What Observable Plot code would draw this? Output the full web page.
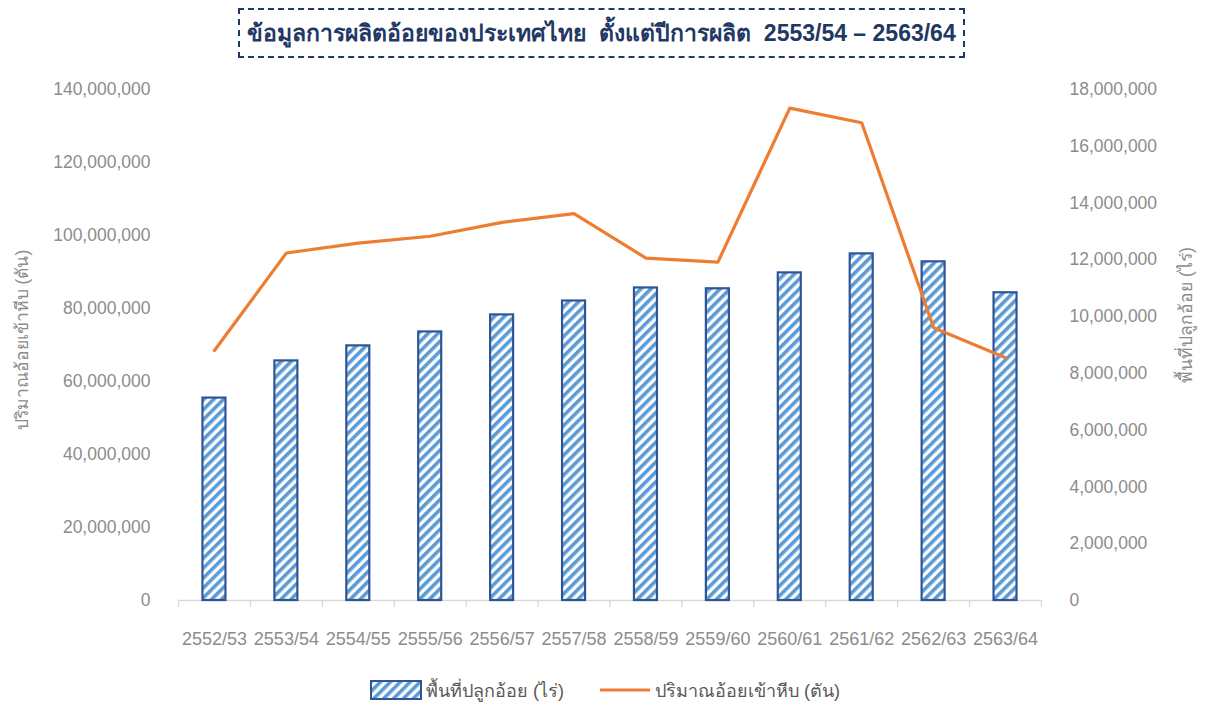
<!DOCTYPE html>
<html>
<head>
<meta charset="utf-8">
<script src="https://cdn.jsdelivr.net/npm/d3@7"></script>
<script src="https://cdn.jsdelivr.net/npm/@observablehq/plot@0.6"></script>
<style>
  body { margin: 0; background: #fff; font-family: "Liberation Sans", Arial, sans-serif; }
  #top { position: relative; height: 66px; }
  #title {
    position: absolute; left: 238px; top: 8px; width: 727px; height: 50px;
    box-sizing: border-box; border: 2px dashed #1F3864;
    display: flex; align-items: center; justify-content: center;
    font-weight: bold; font-size: 23px; color: #1F3864;
  }
  #legend { position: relative; height: 47px; font-size: 18px; color: #595959; }
  .li { position: absolute; top: 12px; display: flex; align-items: center; height: 24px; }
</style>
</head>
<body>
<div id="top"><div id="title">ข้อมูลการผลิตอ้อยของประเทศไทย&nbsp; ตั้งแต่ปีการผลิต&nbsp; 2553/54 – 2563/64</div></div>
<div id="chart"></div>
<div id="legend">
  <div class="li" style="left:370px">
    <svg width="52" height="20"><rect x="1" y="1" width="50" height="18" fill="url(#hatchL)" stroke="#2F5597" stroke-width="2"/>
      <defs><pattern id="hatchL" patternUnits="userSpaceOnUse" width="7" height="7" patternTransform="rotate(45)"><rect width="7" height="7" fill="#fff"/><rect width="3.6" height="7" fill="#5B9BD5"/></pattern></defs></svg>
    <span style="margin-left:4px">พื้นที่ปลูกอ้อย (ไร่)</span>
  </div>
  <div class="li" style="left:600px">
    <svg width="50" height="20"><line x1="0" y1="10" x2="50" y2="10" stroke="#ED7D31" stroke-width="3"/></svg>
    <span style="margin-left:5px">ปริมาณอ้อยเข้าหีบ (ตัน)</span>
  </div>
</div>
<script>
const seasons = ["2552/53","2553/54","2554/55","2555/56","2556/57","2557/58","2558/59","2559/60","2560/61","2561/62","2562/63","2563/64"];
// ปริมาณอ้อยเข้าหีบ (ตัน) — left axis
const caneTons = [68.5e6, 95.2e6, 97.9e6, 99.8e6, 103.6e6, 106.0e6, 93.8e6, 92.7e6, 134.9e6, 130.9e6, 74.7e6, 66.5e6];
// พื้นที่ปลูกอ้อย (ไร่) — right axis
const areaRai = [7.13e6, 8.44e6, 8.97e6, 9.46e6, 10.06e6, 10.55e6, 11.01e6, 10.98e6, 11.54e6, 12.21e6, 11.93e6, 10.84e6];
const leftTicks = [0, 20e6, 40e6, 60e6, 80e6, 100e6, 120e6, 140e6];
const rightTicks = [0, 2e6, 4e6, 6e6, 8e6, 10e6, 12e6, 14e6, 16e6, 18e6];
const leftTitle = "ปริมาณอ้อยเข้าหีบ (ตัน)";
const rightTitle = "พื้นที่ปลูกอ้อย (ไร่)";
const leftMax = 140e6, rightMax = 18e6;
const k = leftMax / rightMax;

const data = seasons.map((s, i) => ({season: s, cane: caneTons[i], area: areaRai[i]}));
const fmt = d3.format(",");

const W = 1207, H = 600, mL = 178, mR = 166;
const bw = (W - mL - mR) / seasons.length;
const grey = "#8c8c8c";

const chart = Plot.plot({
  width: W, height: H,
  marginLeft: mL, marginRight: mR, marginTop: 23, marginBottom: 66,
  style: {fontFamily: "'Liberation Sans', Arial, sans-serif", fontSize: "17.5px", color: grey, background: "#fff"},
  x: {type: "band", domain: seasons, padding: 0, round: false},
  y: {domain: [0, leftMax]},
  marks: [
    Plot.ruleY([0], {stroke: "#d9d9d9", strokeWidth: 1.3}),
    Plot.ruleX(seasons, {x: d => d, dx: -bw / 2, y1: 0, y2: 0, insetBottom: -7, stroke: "#d9d9d9", strokeWidth: 1.3}),
    Plot.ruleX([seasons[seasons.length - 1]], {x: d => d, dx: bw / 2, y1: 0, y2: 0, insetBottom: -7, stroke: "#d9d9d9", strokeWidth: 1.3}),
    Plot.barY(data, {x: "season", y: d => d.area * k, fill: "url(#hatch)", stroke: "#2F5597", strokeWidth: 2.2,
      insetLeft: (bw - 23) / 2, insetRight: (bw - 23) / 2}),
    Plot.line(data, {x: "season", y: "cane", stroke: "#ED7D31", strokeWidth: 3.2}),
    Plot.axisX({tickSize: 0, tickPadding: 32, fontSize: 18, fill: grey, label: null}),
    Plot.axisY(leftTicks, {anchor: "left", tickSize: 0, tickPadding: 28, tickFormat: fmt, fill: grey, label: null}),
    Plot.axisY(rightTicks.map(v => v * k), {anchor: "right", tickSize: 0, tickPadding: 28,
      tickFormat: v => fmt(Math.round(v / k)), fill: grey, label: null}),
    Plot.text([leftTitle], {text: d => d, frameAnchor: "left", textAnchor: "middle", rotate: -90, dx: -156, dy: -5, fill: grey, fontSize: 17.5}),
    Plot.text([rightTitle], {text: d => d, frameAnchor: "right", textAnchor: "middle", rotate: -90, dx: 145, dy: -30, fill: grey, fontSize: 17.5})
  ]
});

const svg = d3.select(chart.tagName.toLowerCase() === "svg" ? chart : chart.querySelector("svg"));
const defs = svg.insert("defs", ":first-child");
const pat = defs.append("pattern").attr("id", "hatch").attr("patternUnits", "userSpaceOnUse")
  .attr("width", 7).attr("height", 7).attr("patternTransform", "rotate(45)");
pat.append("rect").attr("width", 7).attr("height", 7).attr("fill", "#fff");
pat.append("rect").attr("width", 3.6).attr("height", 7).attr("fill", "#5B9BD5");
document.getElementById("chart").appendChild(chart);
</script>
</body>
</html>
